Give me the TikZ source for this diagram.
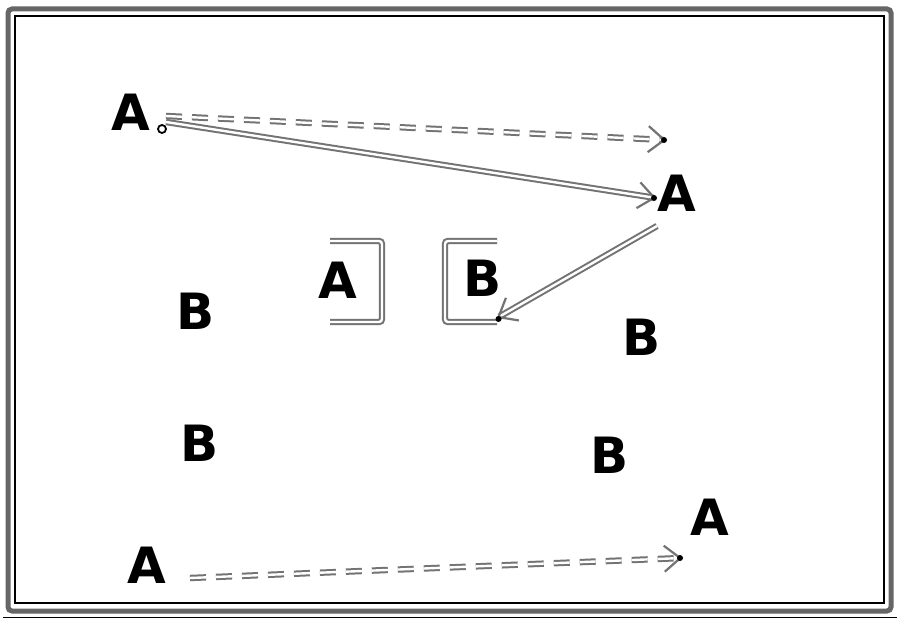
\documentclass[tikz,border=0pt]{standalone}
\usepackage{fontspec}
\setmainfont{DejaVu Sans}
\usetikzlibrary{arrows.meta}
\begin{document}
\begin{tikzpicture}[x=1pt,y=-1pt,
  letter/.style={font=\bfseries\fontsize{50}{50}\selectfont, inner sep=0pt},
  dbl/.style={draw=black!55, line width=2pt, double=white, double distance=2.4pt},
  dbldash/.style={dbl, dash pattern=on 16pt off 10pt},
  tip/.style={-{Straight Barb[length=16pt,width=26pt,line width=2.2pt]}},
  bracket/.style={dbl, rounded corners=3pt}]
\useasboundingbox (0,0) rectangle (900,620);
\fill[white] (0,0) rectangle (900,620);
% frame
\draw[black!60, line width=5pt, rounded corners=4pt] (8,9) rectangle (891,611);
\draw[black, line width=1.5pt] (15,16) rectangle (884,603);
\draw[black, line width=1pt] (3,617) -- (897,617);
% letters
\node[letter] (a1) at (131,112) {A};
\node[letter] (a2) at (677,193) {A};
\node[letter] (ab) at (338,280) {A};
\node[letter] (bb) at (483,278) {B};
\node[letter] (b1) at (196,311) {B};
\node[letter] (b2) at (642,337) {B};
\node[letter] (b3) at (200,443) {B};
\node[letter] (b4) at (610,455) {B};
\node[letter] (a5) at (147,565) {A};
\node[letter] (a6) at (710,517) {A};
% brackets
\draw[bracket] (330,241) -- (382,241) -- (382,322) -- (330,322);
\draw[bracket] (497,241) -- (445,241) -- (445,322) -- (497,322);
% connector end points
\coordinate (s1) at (166,116);
\coordinate (e1) at (666,140);
\coordinate (s2) at (166,122);
\coordinate (e2) at (656,198);
\coordinate (s3) at (657,226);
\coordinate (e3) at (497,318);
\coordinate (s4) at (190,578);
\coordinate (e4) at (682,558);
\draw[dbldash, tip] (s1) -- (e1);
\draw[dbl, tip] (s2) -- (e2);
\draw[dbl, tip] (s3) -- (e3);
\draw[dbldash, tip] (s4) -- (e4);
\node[draw=black, line width=1.8pt, circle, minimum size=8pt, inner sep=0pt] (c1) at (162,129) {};
\fill ([xshift=-2pt]e1) circle (3pt);
\fill ([xshift=-2pt]e2) circle (3pt);
\fill ([xshift=1.5pt,yshift=-1pt]e3) circle (3pt);
\fill ([xshift=-2pt]e4) circle (3pt);
\end{tikzpicture}
\end{document}
